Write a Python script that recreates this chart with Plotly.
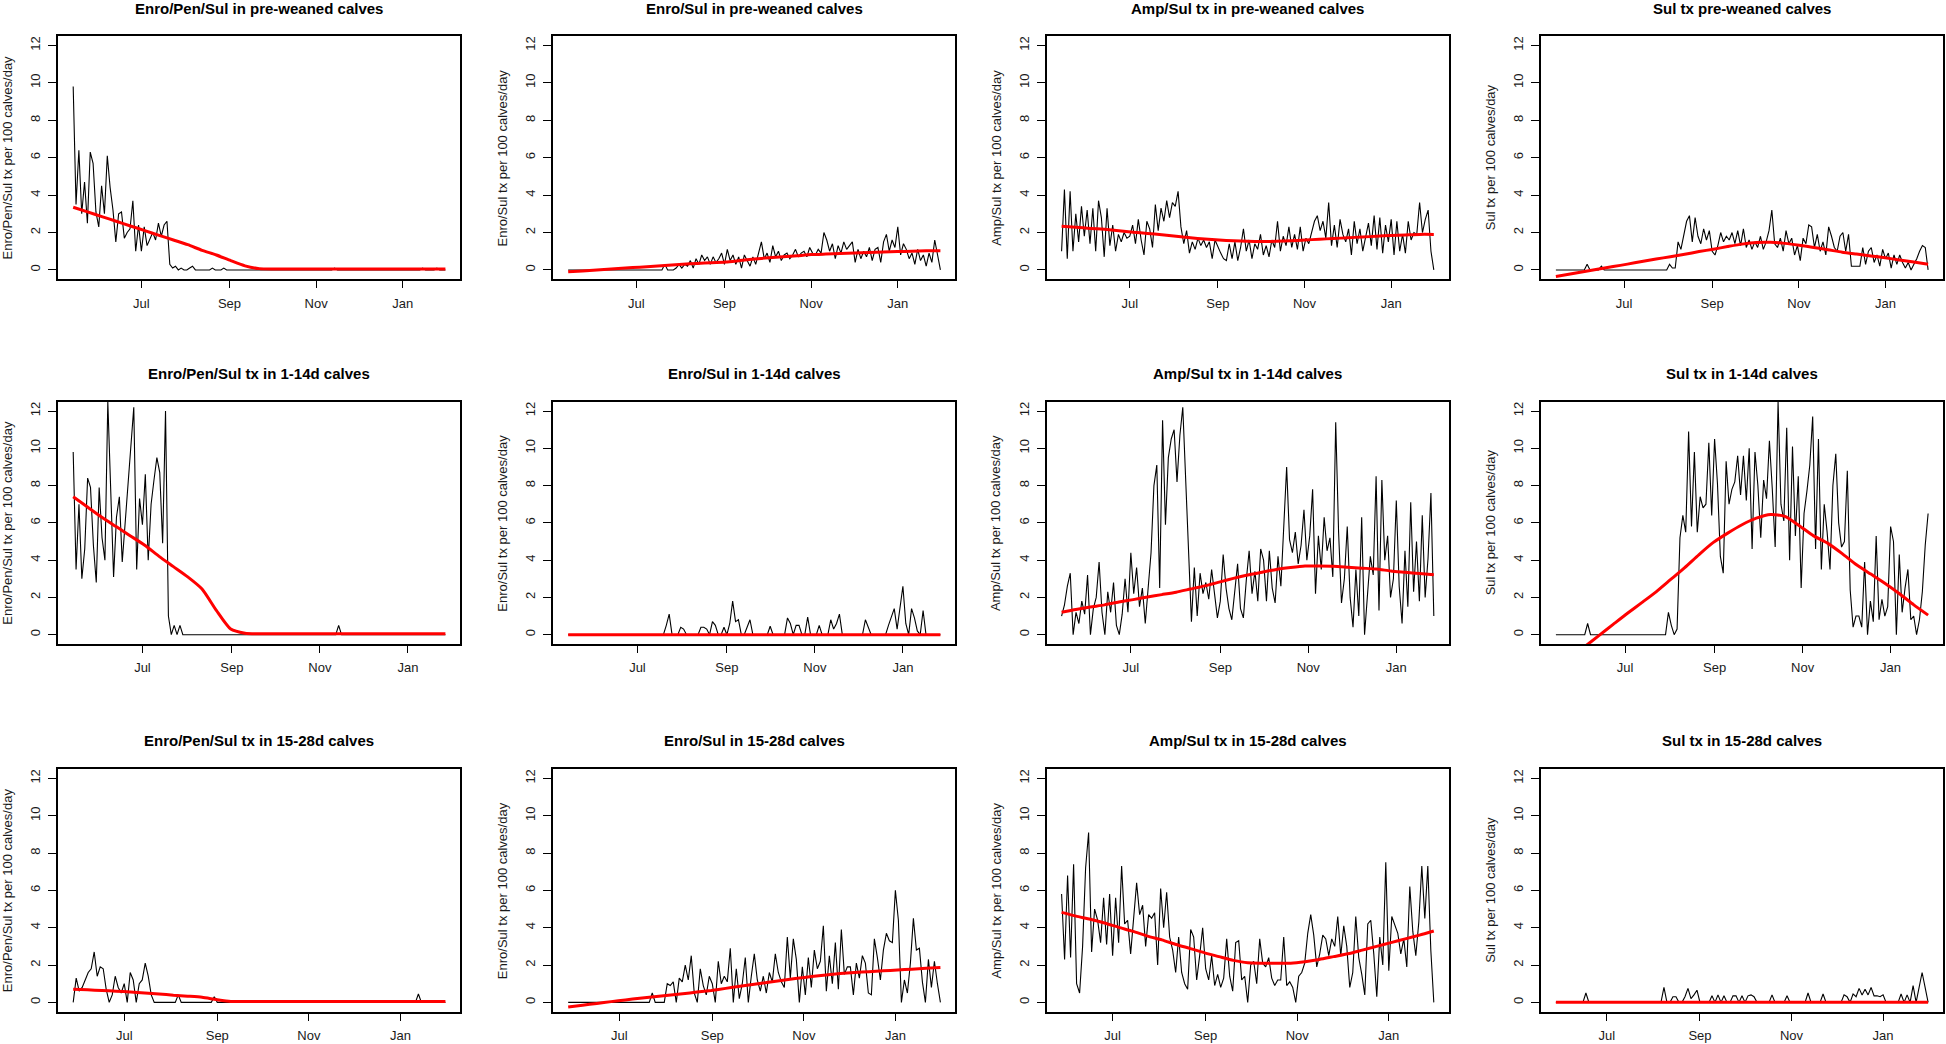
import pandas as pd
import plotly.graph_objects as go

W, H = 1946, 1044
FONT = "Liberation Sans, Arial, sans-serif"

# ---------------- data (black = observed, every 2nd day; red = smoothed trend) --------------
ROW_START = ["2016-05-14", "2016-05-14", "2016-05-28"]
MONTH_TICKS = ["2016-07-01", "2016-09-01", "2016-11-01", "2017-01-01"]
MONTH_LABELS = ["Jul", "Sep", "Nov", "Jan"]
Y_TICKS = [0, 2, 4, 6, 8, 10, 12]

TITLES = [
    "Enro/Pen/Sul in pre-weaned calves", "Enro/Sul in pre-weaned calves",
    "Amp/Sul tx in pre-weaned calves", "Sul tx pre-weaned calves",
    "Enro/Pen/Sul tx in 1-14d calves", "Enro/Sul in 1-14d calves",
    "Amp/Sul tx in 1-14d calves", "Sul tx in 1-14d calves",
    "Enro/Pen/Sul tx in 15-28d calves", "Enro/Sul in 15-28d calves",
    "Amp/Sul tx in 15-28d calves", "Sul tx in 15-28d calves",
]
Y_LABELS = [
    "Enro/Pen/Sul tx per 100 calves/day", "Enro/Sul tx per 100 calves/day",
    "Amp/Sul tx per 100 calves/day", "Sul tx per 100 calves/day",
]

epsul_pre = [
    9.8, 3.5, 6.4, 3.0, 4.7, 2.5, 6.3, 5.7, 3.1, 2.3,
    4.5, 3.0, 6.1, 4.4, 3.2, 1.5, 3.0, 3.1, 1.7, 2.0,
    2.2, 3.7, 1.0, 2.4, 1.0, 2.3, 1.3, 1.7, 2.0, 1.6,
    2.5, 1.8, 2.4, 2.6, 0.3, 0.1, 0.2, 0.0, 0.1, 0.0,
    0.0, 0.1, 0.2, 0.0, 0.0, 0.0, 0.0, 0.0, 0.0, 0.1,
    0, 0, 0, 0.1, 0, 0, 0, 0, 0, 0,
    0, 0, 0, 0, 0, 0, 0, 0, 0, 0,
    0, 0, 0, 0, 0, 0, 0, 0, 0, 0,
    0, 0, 0, 0, 0, 0, 0, 0, 0, 0,
    0, 0, 0.1, 0, 0, 0, 0, 0, 0, 0,
    0, 0, 0, 0, 0, 0, 0, 0, 0, 0,
    0, 0, 0, 0, 0, 0, 0, 0, 0, 0,
    0, 0, 0, 0.1, 0, 0, 0, 0, 0.1, 0,
    0, 0,
]
epsul_pre_trend = [3.35, 3.1, 2.85, 2.6, 2.35, 2.1, 1.85, 1.6, 1.35, 1.05, 0.8, 0.5, 0.22, 0.07,
                   0.05, 0.05, 0.05, 0.05, 0.05, 0.05, 0.05, 0.05, 0.05, 0.05, 0.05, 0.05, 0.05]

esul_pre = [
    0, 0, 0, 0, 0, 0, 0, 0, 0, 0,
    0, 0, 0, 0, 0, 0, 0, 0, 0, 0,
    0, 0, 0, 0, 0, 0, 0, 0, 0, 0,
    0, 0, 0, 0, 0.3, 0.0, 0.0, 0.0, 0.1, 0.3,
    0.1, 0.3, 0.2, 0.5, 0.1, 0.6, 0.3, 0.8, 0.5, 0.7,
    0.3, 0.7, 0.4, 0.6, 0.9, 0.3, 1.1, 0.5, 0.8, 0.3,
    0.7, 0.1, 0.8, 0.5, 0.2, 0.7, 0.3, 0.9, 1.5, 0.6,
    0.9, 0.4, 1.3, 0.7, 1.0, 0.5, 0.8, 0.9, 0.6, 0.8,
    1.1, 0.7, 0.9, 1.0, 0.7, 1.2, 0.9, 0.8, 1.1, 0.9,
    2.0, 1.6, 1.0, 1.4, 0.6, 1.3, 0.9, 1.5, 1.1, 1.3,
    1.5, 0.4, 1.1, 0.6, 1.0, 0.7, 1.2, 0.5, 1.1, 1.2,
    0.4, 1.5, 1.9, 1.0, 1.6, 1.2, 2.3, 0.8, 1.4, 1.1,
    0.6, 0.9, 0.3, 1.1, 0.5, 0.8, 0.2, 0.9, 0.4, 1.6,
    0.7, 0.0,
]
esul_pre_trend = [-0.1, -0.05, 0.0, 0.05, 0.1, 0.15, 0.2, 0.25, 0.3, 0.35, 0.38, 0.42, 0.5, 0.58,
                  0.65, 0.7, 0.76, 0.82, 0.85, 0.88, 0.9, 0.93, 0.96, 0.98, 1.0, 1.02, 1.02]

asul_pre = [
    1.0, 4.3, 0.6, 4.2, 1.0, 3.0, 1.5, 3.4, 1.8, 3.2,
    1.4, 3.3, 1.0, 3.7, 2.8, 0.7, 3.3, 1.3, 2.4, 1.0,
    1.9, 1.5, 2.0, 1.7, 1.8, 2.4, 1.4, 2.7, 1.6, 0.8,
    2.6, 2.2, 1.2, 3.5, 2.1, 3.3, 2.6, 3.7, 2.8, 3.6,
    3.4, 4.2, 2.3, 1.4, 2.1, 0.9, 1.5, 1.1, 1.7, 1.3,
    1.6, 1.2, 1.5, 0.6, 1.6, 1.2, 0.9, 0.6, 0.5, 1.4,
    0.6, 1.5, 0.5, 1.2, 2.2, 1.0, 1.6, 0.6, 1.4, 1.1,
    1.9, 0.8, 1.3, 0.7, 1.6, 1.2, 2.6, 1.0, 1.8, 1.3,
    2.3, 1.2, 1.9, 1.1, 2.3, 1.0, 1.7, 1.4, 2.0, 2.6,
    2.9, 2.1, 2.6, 1.7, 3.6, 1.3, 2.4, 1.2, 2.7, 1.9,
    1.5, 2.2, 0.8, 2.6, 1.4, 2.2, 1.0, 1.8, 2.5, 1.3,
    2.9, 1.1, 2.8, 0.9, 2.4, 1.5, 2.7, 0.8, 2.6, 1.0,
    1.9, 0.9, 2.6, 1.6, 2.0, 1.9, 3.6, 2.0, 2.7, 3.2,
    1.0, 0.0,
]
asul_pre_trend = [2.33, 2.28, 2.22, 2.17, 2.1, 2.02, 1.95, 1.88, 1.8, 1.72, 1.65, 1.6, 1.56, 1.53,
                  1.52, 1.53, 1.56, 1.6, 1.64, 1.68, 1.72, 1.76, 1.8, 1.84, 1.87, 1.9, 1.9]

sul_pre = [
    0, 0, 0, 0, 0, 0, 0, 0, 0, 0,
    0, 0.3, 0, 0, 0, 0, 0.2, 0, 0, 0,
    0, 0, 0, 0, 0, 0, 0, 0, 0, 0,
    0, 0, 0, 0, 0, 0, 0, 0, 0, 0,
    0.3, 0.1, 0.1, 1.5, 1.1, 1.9, 2.6, 2.9, 1.5, 2.8,
    1.8, 1.4, 2.2, 1.6, 2.1, 1.0, 0.8, 1.3, 2.0, 1.5,
    1.8, 1.6, 2.0, 1.4, 2.1, 1.3, 2.2, 1.2, 1.6, 1.1,
    1.5, 1.2, 1.8, 1.1, 1.5, 2.1, 3.2, 1.4, 1.2, 1.7,
    1.0, 2.1, 1.4, 1.7, 0.8, 1.3, 0.5, 1.7, 1.4, 2.4,
    2.3, 1.2, 1.9, 1.0, 1.5, 0.8, 2.3, 1.8, 1.2, 1.0,
    1.8, 2.0, 1.0, 1.9, 0.2, 0.2, 0.2, 0.2, 1.2, 0.3,
    1.0, 1.2, 0.4, 0.8, 0.2, 1.1, 0.6, 0.9, 0.1, 0.8,
    0.3, 0.8, 0.4, 0.1, 0.4, 0.0, 0.3, 0.6, 1.0, 1.3,
    1.2, 0.0,
]
sul_pre_trend = [-0.35, -0.22, -0.08, 0.05, 0.18, 0.31, 0.45, 0.58, 0.71, 0.84, 0.98, 1.11, 1.25, 1.38,
                 1.47, 1.48, 1.42, 1.32, 1.2, 1.08, 0.95, 0.85, 0.75, 0.65, 0.53, 0.42, 0.3]

epsul_114 = [
    9.8, 3.5, 7.0, 3.0, 4.6, 8.4, 7.9, 4.8, 2.8, 7.9,
    5.2, 4.0, 12.5, 8.3, 3.1, 6.3, 7.4, 3.9, 6.1, 8.1,
    10.1, 12.2, 3.5, 7.3, 5.9, 8.6, 4.0, 7.0, 8.3, 9.5,
    8.7, 4.9, 12.0, 1.0, 0.0, 0.5, 0.0, 0.5, 0.0, 0.0,
    0, 0, 0, 0, 0, 0, 0, 0, 0, 0,
    0, 0, 0, 0, 0, 0, 0, 0, 0, 0,
    0, 0, 0, 0, 0, 0, 0, 0, 0, 0,
    0, 0, 0, 0, 0, 0, 0, 0, 0, 0,
    0, 0, 0, 0, 0, 0, 0, 0, 0, 0,
    0, 0, 0.5, 0, 0, 0, 0, 0, 0, 0,
    0, 0, 0, 0, 0, 0, 0, 0, 0, 0,
    0, 0, 0, 0, 0, 0, 0, 0, 0, 0,
    0, 0, 0, 0, 0, 0, 0, 0, 0, 0,
]
epsul_114_trend = [7.4, 6.85, 6.3, 5.8, 5.3, 4.8, 4.2, 3.65, 3.1, 2.45, 1.3, 0.3, 0.08, 0.05,
                   0.05, 0.05, 0.05, 0.05, 0.05, 0.05, 0.05, 0.05, 0.05, 0.05, 0.05, 0.05, 0.05]

esul_114 = [
    0, 0, 0, 0, 0, 0, 0, 0, 0, 0,
    0, 0, 0, 0, 0, 0, 0, 0, 0, 0,
    0, 0, 0, 0, 0, 0, 0, 0, 0, 0,
    0, 0, 0, 0, 0.5, 1.1, 0, 0, 0, 0.4,
    0.3, 0, 0, 0, 0, 0, 0.4, 0.4, 0.3, 0.0,
    0.7, 0.5, 0, 0, 0.4, 0, 0.6, 1.8, 0.7, 0.8,
    0, 0, 0.4, 0.8, 0, 0, 0, 0, 0, 0,
    0.45, 0, 0, 0, 0, 0, 0.9, 0.6, 0, 0.5,
    0.5, 0, 0, 0.95, 0, 0, 0, 0.5, 0, 0,
    0, 0.8, 0.3, 0.6, 1.1, 0, 0, 0, 0, 0,
    0, 0, 0, 0.8, 0.4, 0, 0, 0, 0, 0,
    0, 0.5, 1.0, 1.4, 0.3, 1.4, 2.6, 0.6, 0, 1.4,
    0.9, 0.2, 0, 1.3, 0, 0, 0, 0, 0, 0,
]
esul_114_trend = [0.0] * 27

asul_114 = [
    1.0, 1.6, 2.6, 3.3, 0.0, 1.2, 0.6, 1.8, 1.1, 3.2,
    0.0, 1.4, 2.0, 3.9, 1.2, 0.0, 2.3, 1.2, 2.8, 0.5,
    0.0, 1.1, 3.0, 1.2, 4.4, 2.2, 3.6, 1.5, 2.5, 0.6,
    2.5, 4.4, 8.0, 9.1, 2.5, 11.5, 5.9, 9.5, 10.5, 11.0,
    8.2, 10.7, 12.2, 7.8, 4.5, 0.7, 3.6, 1.0, 3.3, 2.2,
    2.8, 1.9, 3.5, 2.2, 0.9, 1.8, 4.3, 2.5, 1.4, 0.8,
    2.2, 3.8, 1.4, 0.9, 2.9, 4.5, 2.2, 3.4, 1.8, 4.6,
    4.0, 1.8, 4.5, 2.5, 1.7, 4.2, 2.6, 6.0, 9.0, 5.1,
    4.4, 5.5, 3.8, 4.8, 6.7, 4.0, 5.3, 7.8, 2.2, 5.3,
    3.5, 6.3, 4.5, 5.2, 3.1, 11.4, 5.5, 1.7, 3.0, 5.8,
    2.0, 0.4, 3.5, 1.0, 6.3, 0.0, 2.4, 4.2, 3.2, 8.5,
    1.3, 8.3, 4.0, 5.3, 2.0, 3.0, 7.2, 2.6, 0.6, 4.5,
    1.5, 7.1, 2.3, 5.0, 1.8, 6.4, 2.0, 4.1, 7.6, 1.0,
]
asul_114_trend = [1.2, 1.35, 1.48, 1.6, 1.75, 1.88, 2.02, 2.15, 2.28, 2.45, 2.62, 2.82, 3.02, 3.2,
                  3.35, 3.5, 3.6, 3.68, 3.68, 3.67, 3.62, 3.57, 3.52, 3.42, 3.35, 3.28, 3.22]

sul_114 = [
    0, 0, 0, 0, 0, 0, 0, 0, 0, 0,
    0, 0.6, 0, 0, 0, 0, 0, 0, 0, 0,
    0, 0, 0, 0, 0, 0, 0, 0, 0, 0,
    0, 0, 0, 0, 0, 0, 0, 0, 0, 1.2,
    0.5, 0.0, 0.3, 5.2, 6.4, 5.5, 10.9, 5.8, 9.8, 5.5,
    7.4, 6.8, 7.0, 10.3, 6.4, 10.5, 8.1, 4.2, 3.3, 9.3,
    7.0, 7.8, 8.2, 9.6, 7.5, 9.6, 7.2, 10.0, 4.6, 9.8,
    8.0, 5.2, 8.3, 7.3, 10.4, 7.8, 4.7, 12.5, 7.0, 6.1,
    11.1, 4.0, 10.1, 5.3, 8.5, 2.5, 6.5, 7.7, 9.1, 11.7,
    4.6, 10.5, 3.5, 7.0, 5.5, 3.5, 8.0, 9.7, 6.0, 4.7,
    5.0, 8.8, 2.4, 0.4, 1.0, 1.0, 0.4, 3.9, 0.0, 1.8,
    0.7, 5.3, 0.8, 1.9, 1.0, 1.5, 5.8, 5.0, 0.0, 4.3,
    1.2, 2.5, 3.5, 0.8, 1.0, 0.0, 0.8, 2.3, 4.8, 6.5,
]
sul_114_trend = [-1.85, -1.25, -0.65, -0.05, 0.55, 1.15, 1.72, 2.3, 2.95, 3.6, 4.3, 4.95, 5.45, 5.9,
                 6.25, 6.45, 6.35, 5.85, 5.3, 4.9, 4.35, 3.75, 3.25, 2.75, 2.2, 1.6, 1.05]

epsul_1528 = [
    0.0, 1.3, 0.6, 0.8, 1.2, 1.6, 1.8, 2.7, 1.4, 1.9,
    1.8, 0.7, 0.0, 0.4, 1.4, 0.8, 0.5, 1.0, 0.0, 1.6,
    1.2, 0.0, 1.0, 1.2, 2.1, 1.4, 0.4, 0.0, 0.0, 0.0,
    0, 0, 0, 0, 0, 0.4, 0, 0, 0, 0,
    0, 0, 0, 0, 0, 0, 0, 0.3, 0, 0,
    0, 0, 0, 0, 0, 0, 0, 0, 0, 0,
    0, 0, 0, 0, 0, 0, 0, 0, 0, 0,
    0, 0, 0, 0, 0, 0, 0, 0, 0, 0,
    0, 0, 0, 0, 0, 0, 0, 0, 0, 0,
    0, 0, 0, 0, 0, 0, 0, 0, 0, 0,
    0, 0, 0, 0, 0, 0, 0, 0, 0, 0,
    0, 0, 0, 0, 0, 0.45, 0, 0, 0, 0,
    0, 0, 0, 0, 0,
]
epsul_1528_trend = [0.7, 0.67, 0.63, 0.6, 0.55, 0.5, 0.45, 0.38, 0.33, 0.27, 0.15, 0.05, 0.05, 0.05,
                    0.05, 0.05, 0.05, 0.05, 0.05, 0.05, 0.05, 0.05, 0.05, 0.05, 0.05, 0.05, 0.05]

esul_1528 = [
    0, 0, 0, 0, 0, 0, 0, 0, 0, 0,
    0, 0, 0, 0, 0, 0, 0, 0, 0, 0,
    0, 0, 0, 0, 0, 0, 0, 0, 0.5, 0,
    0, 0, 0, 1.0, 0.9, 1.1, 0.0, 1.3, 1.1, 2.0,
    1.2, 2.5, 0.5, 0.0, 1.8, 0.9, 0.4, 1.4, 1.0, 0.0,
    2.2, 1.0, 1.4, 1.1, 2.9, 0.0, 1.8, 0.2, 1.0, 2.4,
    0.0, 1.4, 2.6, 1.2, 0.6, 1.4, 0.5, 1.6, 1.1, 2.6,
    1.6, 1.1, 0.8, 3.5, 1.3, 3.4, 2.3, 0.0, 1.9, 0.4,
    2.4, 0.8, 2.8, 1.8, 2.2, 4.1, 0.6, 2.5, 1.0, 3.2,
    0.7, 3.9, 1.5, 1.9, 1.9, 0.4, 2.1, 1.3, 2.5, 2.1,
    0.5, 0.4, 3.4, 2.4, 1.2, 2.8, 3.7, 3.3, 3.2, 6.0,
    4.4, 0.0, 1.2, 0.5, 2.1, 4.5, 2.8, 2.9, 1.1, 0.0,
    2.3, 0.8, 2.2, 1.0, 0.0,
]
esul_1528_trend = [-0.25, -0.15, -0.06, 0.04, 0.13, 0.22, 0.3, 0.38, 0.46, 0.55, 0.64, 0.75, 0.86, 0.97,
                   1.08, 1.18, 1.29, 1.38, 1.46, 1.54, 1.6, 1.64, 1.69, 1.73, 1.78, 1.83, 1.87]

asul_1528 = [
    5.8, 2.3, 6.8, 2.4, 7.4, 1.0, 0.5, 3.0, 7.2, 9.1,
    2.7, 5.0, 4.4, 3.2, 5.6, 3.1, 5.8, 2.5, 5.6, 3.2,
    7.3, 4.2, 4.4, 2.6, 4.5, 6.4, 4.7, 5.2, 3.0, 4.7,
    4.5, 4.8, 2.0, 6.1, 4.0, 5.9, 3.5, 2.8, 1.6, 3.5,
    1.6, 1.0, 0.7, 3.9, 3.5, 1.2, 2.5, 4.0, 1.8, 1.2,
    2.5, 0.9, 1.5, 0.8, 1.3, 3.4, 1.4, 0.6, 3.2, 3.3,
    1.2, 1.4, 0.0, 2.0, 2.2, 1.0, 3.4, 2.1, 1.9, 2.4,
    1.3, 0.9, 1.2, 1.2, 3.5, 0.9, 1.1, 0.8, 0.0, 1.4,
    1.6, 2.1, 3.7, 4.7, 3.6, 1.9, 2.6, 3.6, 3.4, 2.5,
    3.4, 3.0, 4.6, 2.5, 4.1, 3.0, 0.8, 1.6, 4.6, 2.4,
    1.5, 0.4, 4.2, 4.4, 2.6, 0.3, 3.5, 2.0, 7.5, 1.7,
    4.6, 4.2, 3.7, 2.6, 3.4, 1.9, 6.2, 3.8, 2.5, 4.3,
    7.3, 4.5, 7.3, 2.8, 0.0,
]
asul_1528_trend = [4.82, 4.62, 4.45, 4.25, 4.02, 3.8, 3.55, 3.35, 3.1, 2.88, 2.65, 2.45, 2.25, 2.12,
                   2.1, 2.1, 2.1, 2.18, 2.3, 2.45, 2.6, 2.8, 3.0, 3.2, 3.4, 3.6, 3.82]

sul_1528 = [
    0, 0, 0, 0, 0, 0, 0, 0, 0, 0,
    0.5, 0, 0, 0, 0, 0, 0, 0, 0, 0,
    0, 0, 0, 0, 0, 0, 0, 0, 0, 0,
    0, 0, 0, 0, 0, 0, 0.8, 0, 0, 0.3,
    0.3, 0, 0, 0.3, 0.75, 0.2, 0.4, 0.65, 0, 0,
    0, 0, 0.35, 0, 0.4, 0, 0.35, 0, 0, 0.35,
    0.35, 0, 0.35, 0, 0.35, 0.4, 0.3, 0, 0, 0,
    0, 0, 0.4, 0, 0, 0, 0, 0.35, 0, 0,
    0, 0, 0, 0, 0.5, 0, 0, 0, 0, 0.45,
    0, 0, 0, 0, 0, 0, 0.4, 0.3, 0, 0.45,
    0.3, 0.75, 0.4, 0.7, 0.4, 0.8, 0.35, 0.35, 0.3, 0.4,
    0, 0, 0, 0, 0, 0.45, 0, 0.4, 0, 0.9,
    0, 0.8, 1.6, 0.8, 0.0,
]
sul_1528_trend = [0.0] * 27

BLACK = [epsul_pre, esul_pre, asul_pre, sul_pre,
         epsul_114, esul_114, asul_114, sul_114,
         epsul_1528, esul_1528, asul_1528, sul_1528]
RED = [epsul_pre_trend, esul_pre_trend, asul_pre_trend, sul_pre_trend,
       epsul_114_trend, esul_114_trend, asul_114_trend, sul_114_trend,
       epsul_1528_trend, esul_1528_trend, asul_1528_trend, sul_1528_trend]

# ---------------- layout geometry (pixels) ----------------
COL_LEFT = [58.3, 553.3, 1046.7, 1541.0]
PLOT_W = 402.0
ROW_BOX = [(36.0, 279.3), (401.7, 644.0), (769.0, 1011.7)]
TITLE_Y = [8.2, 373.3, 740.3]

fig = go.Figure()
annotations = []
layout = {}

for k in range(12):
    r, c = divmod(k, 4)
    n = k + 1
    xa = "x" if n == 1 else f"x{n}"
    ya = "y" if n == 1 else f"y{n}"
    vals = BLACK[k]
    dates = pd.date_range(ROW_START[r], periods=len(vals), freq="2D")
    rdates = pd.date_range(dates[0], dates[-1], periods=len(RED[k]))
    fig.add_trace(go.Scatter(x=dates, y=vals, mode="lines", xaxis=xa, yaxis=ya,
                             line=dict(color="black", width=1.1), showlegend=False,
                             hoverinfo="skip"))
    fig.add_trace(go.Scatter(x=rdates, y=RED[k], mode="lines", xaxis=xa, yaxis=ya,
                             line=dict(color="#ff0000", width=3, shape="spline", smoothing=0.6),
                             showlegend=False, hoverinfo="skip"))

    span = dates[-1] - dates[0]
    xr = [dates[0] - 0.04 * span, dates[-1] + 0.04 * span]
    left = COL_LEFT[c]
    top, bot = ROW_BOX[r]
    xdom = [left / W, (left + PLOT_W) / W]
    ydom = [1 - bot / H, 1 - top / H]
    axis_common = dict(showline=True, linecolor="black", linewidth=1.7, mirror=True,
                       showgrid=False, zeroline=False, ticks="outside", tickcolor="black",
                       tickwidth=1.4, tickfont=dict(family=FONT, size=13, color="#1a1a1a"))
    layout["xaxis" if n == 1 else f"xaxis{n}"] = dict(
        domain=xdom, anchor=ya, type="date", range=[str(xr[0]), str(xr[1])],
        tickmode="array", tickvals=MONTH_TICKS, ticktext=MONTH_LABELS, ticklen=7,
        ticklabelstandoff=4, **axis_common)
    layout["yaxis" if n == 1 else f"yaxis{n}"] = dict(
        domain=ydom, anchor=xa, range=[-0.5, 12.5], tickmode="array",
        tickvals=Y_TICKS, tickangle=-90, ticklen=8, ticklabelstandoff=3, **axis_common)

    annotations.append(dict(
        text=f"<b>{TITLES[k]}</b>", xref="paper", yref="paper",
        x=(left + PLOT_W / 2) / W, y=1 - TITLE_Y[r] / H, xanchor="center", yanchor="middle",
        showarrow=False, font=dict(family=FONT, size=15, color="black")))
    annotations.append(dict(
        text=Y_LABELS[c], xref="paper", yref="paper", textangle=-90,
        x=(left - 50.5) / W, y=1 - (top + bot) / 2 / H, xanchor="center", yanchor="middle",
        showarrow=False, font=dict(family=FONT, size=13, color="#1a1a1a")))

fig.update_layout(width=W, height=H, autosize=False, margin=dict(l=0, r=0, t=0, b=0),
                  paper_bgcolor="white", plot_bgcolor="white",
                  annotations=annotations, **layout)

fig.write_html("out.html", config={"displayModeBar": False},
               post_script="document.body.style.margin='0px';")
